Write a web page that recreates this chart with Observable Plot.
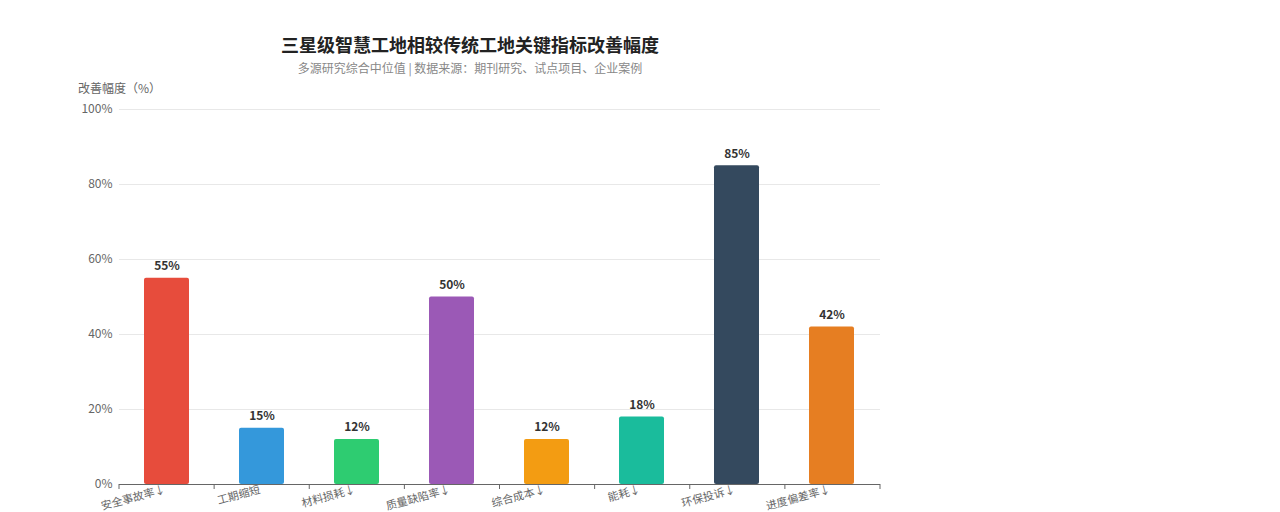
<!DOCTYPE html>
<html>
<head>
<meta charset="utf-8">
<script src="https://cdn.jsdelivr.net/npm/d3@7"></script>
<script src="https://cdn.jsdelivr.net/npm/@observablehq/plot@0.6"></script>
<style>
  body { margin: 0; background: #fff; font-family: "Noto Sans CJK SC", "Noto Sans", sans-serif; }
  #wrap { position: relative; width: 1280px; height: 512px; }
  #title { position: absolute; left: 0; width: 940px; top: 31px; text-align: center; font-size: 18px; font-weight: bold; color: #222; }
  #subtitle { position: absolute; left: 0; width: 940px; top: 59px; text-align: center; font-size: 12px; color: #888; }
  #ylabel { position: absolute; left: 78px; top: 79px; font-size: 12px; color: #666; }
  #chart { position: absolute; left: 0; top: 0; }
</style>
</head>
<body>
<div id="wrap">
  <div id="chart"></div>
  <div id="title">三星级智慧工地相较传统工地关键指标改善幅度</div>
  <div id="subtitle">多源研究综合中位值 | 数据来源：期刊研究、试点项目、企业案例</div>
  <div id="ylabel">改善幅度（%）</div>
</div>
<script>
const categories = ["安全事故率↓", "工期缩短", "材料损耗↓", "质量缺陷率↓", "综合成本↓", "能耗↓", "环保投诉↓", "进度偏差率↓"];
const values = [55, 15, 12, 50, 12, 18, 85, 42];
const colors = ["#e74c3c", "#3498db", "#2ecc71", "#9b59b6", "#f39c12", "#1abc9c", "#34495e", "#e67e22"];
const yTicks = [0, 20, 40, 60, 80, 100];

const data = categories.map((c, i) => ({category: c, value: values[i], color: colors[i]}));

function bandTicks(index, scales, values, dims) {
  const g = d3.create("svg:g");
  const left = dims.marginLeft, right = dims.width - dims.marginRight;
  const bottom = dims.height - dims.marginBottom;
  const n = categories.length;
  for (let i = 0; i <= n; i++) {
    const x = left + i * (right - left) / n;
    g.append("line").attr("x1", x).attr("x2", x).attr("y1", bottom).attr("y2", bottom + 5)
      .attr("stroke", "#666").attr("stroke-width", 1);
  }
  return g.node();
}

const chart = Plot.plot({
  width: 1280,
  height: 512,
  marginTop: 109,
  marginBottom: 28,
  marginLeft: 119,
  marginRight: 400,
  style: {fontFamily: "'Noto Sans CJK SC', 'Noto Sans', sans-serif", fontSize: "12px", color: "#666", background: "transparent"},
  x: {domain: categories, paddingInner: 0.525, paddingOuter: 0.2625, label: null},
  y: {domain: [0, 100], label: null},
  marks: [
    Plot.gridY(yTicks, {stroke: "#e8e8e8", strokeOpacity: 1}),
    Plot.axisY(yTicks, {tickSize: 0, tickPadding: 7, tickFormat: d => d + "%", label: null, fill: "#666", fontSize: 12}),
    Plot.barY(data, {x: "category", y: "value", fill: "color", rx: 2}),
    Plot.text(data, {x: "category", y: "value", text: d => d.value + "%", dy: -12, fontWeight: "bold", fontSize: 12, fill: "#333"}),
    Plot.ruleY([0], {stroke: "#666"}),
    Plot.axisX({tickSize: 0, tickPadding: 5, tickRotate: -15, fill: "#666", fontSize: 11, label: null, dx: -2}),
    bandTicks
  ]
});
document.getElementById("chart").appendChild(chart);
</script>
</body>
</html>
